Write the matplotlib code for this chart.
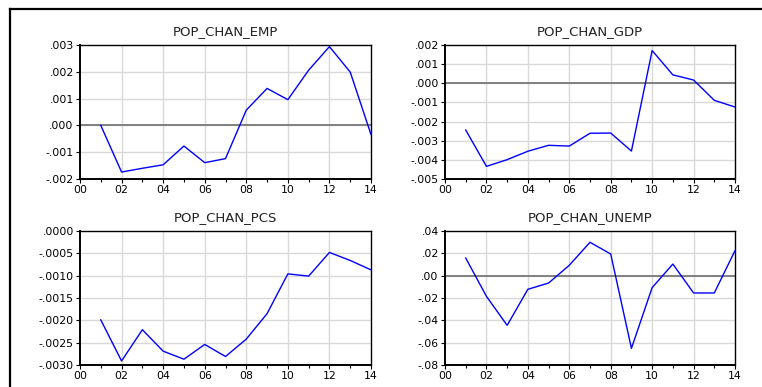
import matplotlib
matplotlib.use("Agg")
import matplotlib.pyplot as plt
from matplotlib.lines import Line2D
from matplotlib.ticker import FixedLocator, FuncFormatter

years = list(range(2001, 2015))

pop_chan_emp = [0.00000, -0.00174, -0.00160, -0.00147, -0.00077, -0.00139, -0.00124,
                0.00057, 0.00138, 0.00096, 0.00206, 0.00294, 0.00199, -0.00034]
pop_chan_gdp = [-0.00244, -0.00434, -0.00399, -0.00355, -0.00324, -0.00328, -0.00261,
                -0.00260, -0.00354, 0.00171, 0.00044, 0.00017, -0.00089, -0.00124]
pop_chan_pcs = [-0.00199, -0.00291, -0.00221, -0.00269, -0.00287, -0.00254, -0.00281,
                -0.00242, -0.00185, -0.00096, -0.00101, -0.00048, -0.00066, -0.00087]
pop_chan_unemp = [0.0158, -0.0185, -0.0445, -0.0122, -0.0066, 0.0093, 0.0299,
                  0.0194, -0.0651, -0.0107, 0.0104, -0.0155, -0.0155, 0.0224]

panels = [
    ("POP_CHAN_EMP", pop_chan_emp, [-0.002, -0.001, 0.0, 0.001, 0.002, 0.003], 3),
    ("POP_CHAN_GDP", pop_chan_gdp, [-0.005, -0.004, -0.003, -0.002, -0.001, 0.0, 0.001, 0.002], 3),
    ("POP_CHAN_PCS", pop_chan_pcs, [-0.0030, -0.0025, -0.0020, -0.0015, -0.0010, -0.0005, 0.0], 4),
    ("POP_CHAN_UNEMP", pop_chan_unemp, [-0.08, -0.06, -0.04, -0.02, 0.0, 0.02, 0.04], 2),
]

W, H = 762, 387
fig = plt.figure(figsize=(W / 100, H / 100), dpi=100)
fig.patch.set_facecolor("white")
plt.rcParams["font.family"] = ["DejaVu Sans"]

# outer frame (top and left edges)
fig.add_artist(Line2D([9.5 / W, 9.5 / W], [0, 1 - 9 / H], transform=fig.transFigure,
                      color="black", lw=1.6))
fig.add_artist(Line2D([9.5 / W, 1], [1 - 9 / H, 1 - 9 / H], transform=fig.transFigure,
                      color="black", lw=1.6))

# panel boxes in pixels: left, right, top, bottom
boxes = [(80, 371, 45, 179), (445, 735, 45, 179), (80, 371, 231, 365), (445, 735, 231, 365)]


def fmt_factory(decimals):
    def f(v, pos):
        s = f"{v:.{decimals}f}"
        if s.startswith("-0"):
            s = "-" + s[2:]
        elif s.startswith("0"):
            s = s[1:]
        return s
    return f


for (title, vals, yt, dec), (l, r, t, b) in zip(panels, boxes):
    ax = fig.add_axes([l / W, 1 - b / H, (r - l) / W, (b - t) / H])
    ax.set_xlim(2000, 2014)
    ax.set_ylim(yt[0], yt[-1])
    ax.xaxis.set_major_locator(FixedLocator(list(range(2000, 2015, 2))))
    ax.xaxis.set_minor_locator(FixedLocator(list(range(2001, 2015, 2))))
    ax.xaxis.set_major_formatter(FuncFormatter(lambda v, p: f"{int(round(v)) % 100:02d}"))
    ax.yaxis.set_major_locator(FixedLocator(yt))
    ax.yaxis.set_major_formatter(FuncFormatter(fmt_factory(dec)))
    for yv in yt[1:-1]:
        ax.axhline(yv, color="#d9d9d9", lw=1.0, zorder=1)
    for xv in range(2002, 2014, 2):
        ax.axvline(xv, color="#d9d9d9", lw=1.0, zorder=1)
    ax.axhline(0.0, color="#808080", lw=1.4, zorder=2)
    ax.plot(years, vals, color="#0000ff", lw=1.0, zorder=3)
    for name, sp in ax.spines.items():
        sp.set_color("black")
        sp.set_linewidth(1.4 if name in ("left", "bottom") else 1.0)
    ax.tick_params(axis="both", which="major", direction="out", length=3, width=0.8,
                   labelsize=7.8, pad=1.5, colors="black")
    ax.tick_params(axis="x", which="minor", direction="out", length=2.5, width=0.8)
    ax.set_title(title, fontsize=9.5, pad=7, color="#222222")

fig.savefig("out.png", dpi=100, facecolor="white")
